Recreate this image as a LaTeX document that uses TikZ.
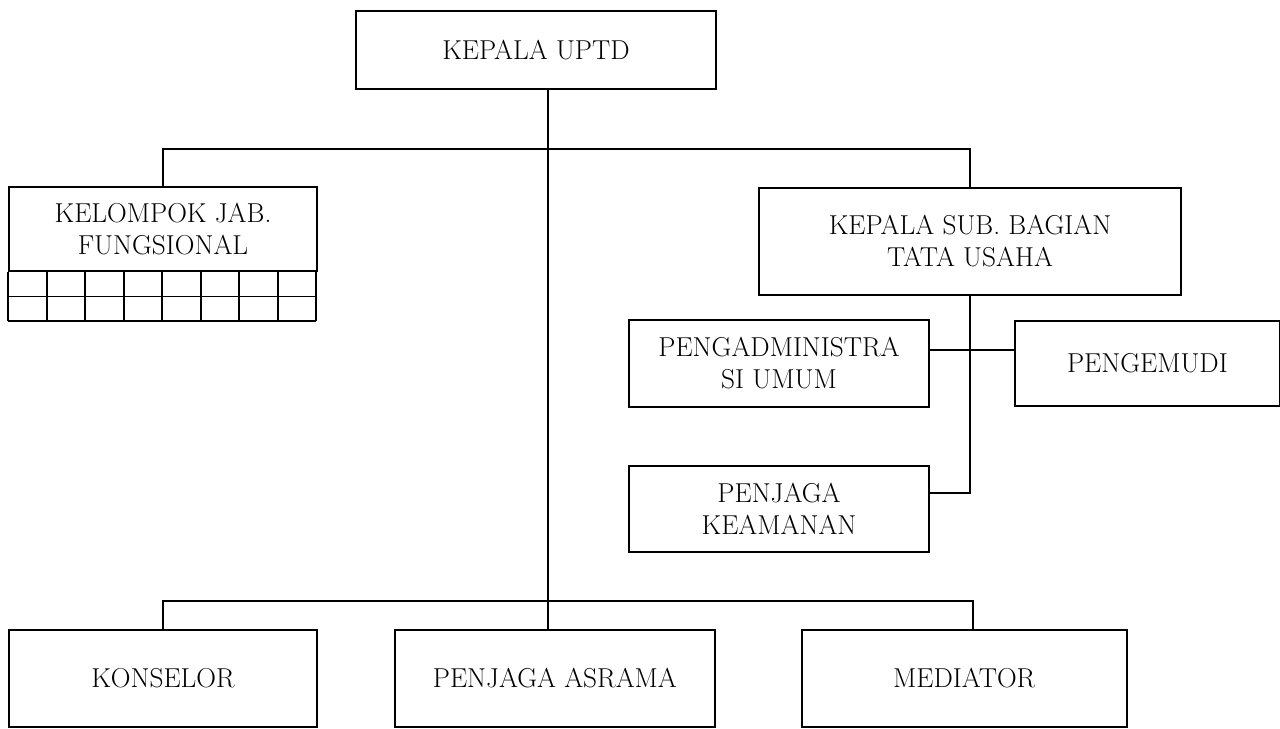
\documentclass[tikz,border=0pt]{standalone}
\usepackage{tikz}
\usetikzlibrary{positioning, calc}
\tikzset{
  unit/.style={
    draw=black, line width=1.4pt,
    align=center, inner sep=2pt,
    font=\fontsize{20.5}{24}\selectfont,
  },
  link/.style={draw=black, line width=1.4pt},
}

\begin{document}
\begin{tikzpicture}[x=0.75pt, y=-0.75pt,
  lower/.style={unit, minimum height=72.75pt},
  pair/.style={unit, minimum width=225pt}]

\useasboundingbox (0,0) rectangle (1280,728);

\node[unit, minimum width=270pt, minimum height=58.5pt] (uptd) at (536,50) {KEPALA UPTD};
\node[unit, minimum width=231pt, minimum height=63pt] (fung) at (163,229) {KELOMPOK JAB.\\FUNGSIONAL};
\node[unit, minimum width=316.5pt, minimum height=80.25pt] (tu) at (970,241.5) {KEPALA SUB. BAGIAN\\TATA USAHA};
\node[pair, minimum height=65.25pt] (admin) at (779,363.5) {PENGADMINISTRA\\SI UMUM};
\node[unit, minimum width=198.75pt, minimum height=63.75pt, right=63pt of admin] (sopir) {PENGEMUDI};
\node[pair, minimum height=64.5pt, below=42.75pt of admin] (keamanan) {PENJAGA\\KEAMANAN};
\node[lower, minimum width=231pt] (konselor) at (163,678.5) {KONSELOR};
\node[lower, minimum width=240pt, right=57pt of konselor] (asrama) {PENJAGA ASRAMA};
\node[lower, minimum width=243.75pt, right=63.75pt of asrama] (mediator) {MEDIATOR};

% cells under the fungsional group
\foreach \i in {0,...,8}
  \draw[link] ($(fung.south west)+(\i*38.5,0)$) -- ++(0,49);
\foreach \j in {1,2}
  \draw[link] ($(fung.south west)+(0,\j*24.5)$) -- ++(308,0);

\coordinate (trunk) at (548,0);
\coordinate (adminrow) at (0,350);
\coordinate (guardrow) at (0,493);

\draw[link] (uptd.south -| trunk) -- (asrama.north -| trunk);
\draw[link] (fung.north) -- ++(0,-37) -| (tu.north);
\draw[link] (konselor.north) -- ++(0,-28) -| ($(mediator.north)+(8.5,0)$);
\draw[link] (tu.south) -- (tu.south |- guardrow) -- (keamanan.east |- guardrow);
\draw[link] (admin.east |- adminrow) -- (sopir.west |- adminrow);

\end{tikzpicture}
\end{document}
